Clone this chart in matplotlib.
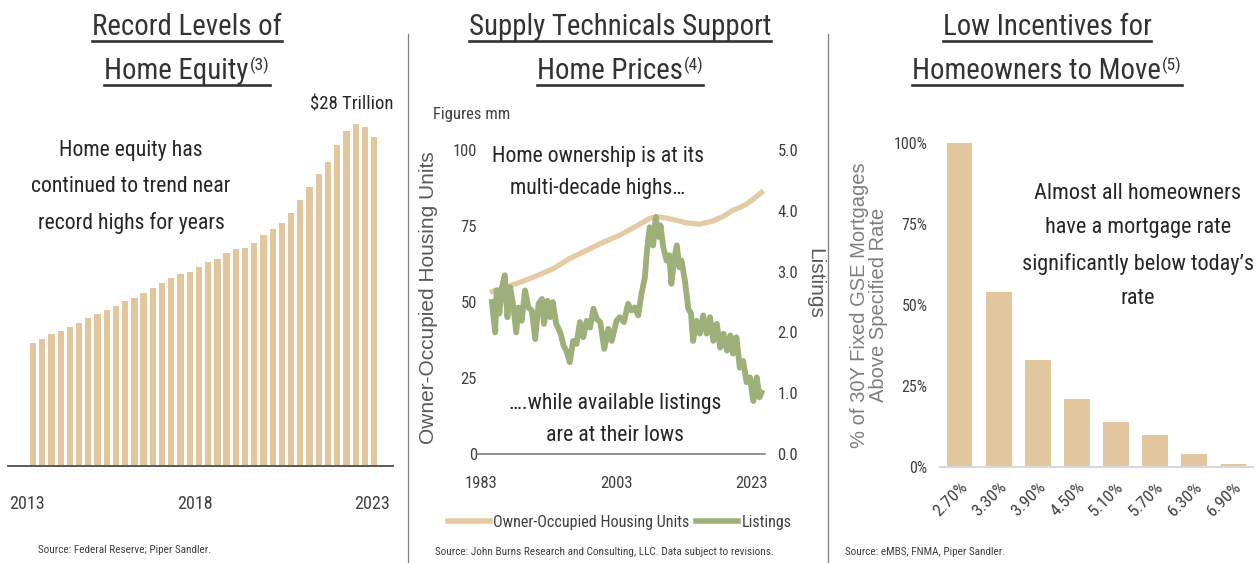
import matplotlib
matplotlib.use("Agg")
import matplotlib.pyplot as plt
from matplotlib import font_manager
from matplotlib.lines import Line2D
import numpy as np

# --- fonts ---
def pick_font(names):
    for n in names:
        try:
            font_manager.findfont(n, fallback_to_default=False)
            return n
        except Exception:
            pass
    return "DejaVu Sans"

NARROW = pick_font(["Liberation Sans Narrow", "Roboto Condensed", "DejaVu Sans"])
REGULAR = pick_font(["Liberation Sans", "Arial", "DejaVu Sans"])

TAN = "#E2C69E"
TAN_LINE = "#E4CBA5"
GREEN = "#9DB07A"
DARK = "#262626"
TITLE_C = "#333333"
TICK_C = "#404040"

# --- data: home equity, quarterly, $ trillion ---
equity_vals = [10.1, 10.4, 10.8, 11.1, 11.4, 11.7, 12.1, 12.5, 12.8, 13.1,
               13.5, 13.8, 14.2, 14.6, 15.0, 15.4, 15.7, 15.9, 16.3, 16.7,
               17.0, 17.5, 17.8, 17.9, 18.3, 18.9, 19.4, 19.9, 20.7, 21.8,
               22.9, 23.9, 24.9, 26.3, 27.5, 28.0, 27.8, 27.0]
equity_ticks = [-0.65, 17.6, 36.8]
equity_tick_labels = ["2013", "2018", "2023"]

# --- data: owner-occupied housing units (mm) ---
units_years = [1984.3, 1986.5, 1988.8, 1991.2, 1993.7, 1996.1, 1998.6, 2001.0,
               2003.5, 2005.8, 2007.9, 2009.2, 2010.4, 2012.0, 2013.4, 2015.3,
               2017.3, 2018.8, 2020.2, 2021.3, 2022.2, 2023.5, 2024.7]
units_vals = [53.2, 54.8, 56.5, 58.6, 61.0, 64.3, 67.0, 69.6,
              72.0, 74.8, 77.5, 78.0, 77.6, 76.8, 76.0, 75.6,
              76.7, 78.2, 80.2, 81.2, 82.2, 84.4, 86.6]

# --- data: listings (mm) ---
listings_years = [1984.6, 1985.1, 1985.3, 1985.7, 1986.1, 1986.5, 1986.9, 1987.3,
                  1987.8, 1988.2, 1988.5, 1989.0, 1989.5, 1990.0, 1990.5, 1991.0,
                  1991.5, 1992.0, 1992.3, 1992.8, 1993.2, 1993.6, 1994.1, 1994.7,
                  1995.2, 1995.6, 1996.1, 1996.6, 1997.1, 1997.6, 1998.1, 1998.6,
                  1999.1, 1999.6, 2000.1, 2000.6, 2001.2, 2001.8, 2002.3, 2003.0,
                  2003.5, 2004.1, 2004.7, 2005.2, 2005.7, 2006.2, 2006.7, 2007.2,
                  2007.5, 2007.9, 2008.4, 2008.8, 2009.2, 2009.5, 2009.9, 2010.4,
                  2010.8, 2011.1, 2011.5, 2011.9, 2012.3, 2012.6, 2013.1, 2013.6,
                  2014.0, 2014.3, 2014.8, 2015.3, 2015.8, 2016.3, 2016.8, 2017.3,
                  2017.8, 2018.3, 2018.8, 2019.3, 2019.8, 2020.2, 2020.7, 2021.2,
                  2021.7, 2022.2, 2022.7, 2023.2, 2023.7, 2024.1, 2024.4]
listings_vals = [2.50, 2.00, 2.69, 2.31, 2.74, 2.94, 2.25, 2.74,
                 2.41, 2.00, 2.41, 2.19, 2.69, 2.41, 2.36, 1.89,
                 2.47, 2.55, 2.14, 2.52, 2.25, 2.50, 2.14, 2.00,
                 1.78, 1.70, 1.51, 1.86, 1.81, 2.17, 1.92, 2.19,
                 2.08, 2.39, 2.22, 2.17, 1.73, 2.06, 1.86, 2.19,
                 2.25, 2.17, 2.47, 2.36, 2.41, 2.28, 2.64, 2.91,
                 3.35, 3.73, 3.43, 3.90, 3.57, 3.76, 3.40, 3.18,
                 3.27, 2.80, 3.18, 3.43, 3.07, 3.18, 2.85, 2.39,
                 2.31, 1.86, 2.19, 1.98, 2.28, 1.98, 2.25, 1.86,
                 2.14, 1.75, 1.98, 1.70, 1.95, 1.65, 1.92, 1.42,
                 1.53, 1.18, 1.26, 0.87, 1.26, 0.93, 1.01]
year_ticks = [1983, 2003, 2023]

# --- data: share of mortgages above specified rate (%) ---
rate_labels = ["2.70%", "3.30%", "3.90%", "4.50%", "5.10%", "5.70%", "6.30%", "6.90%"]
rate_share = [100, 54, 33, 21, 14, 10, 4, 1]

W, H = 1259, 563
fig = plt.figure(figsize=(W / 100, H / 100), dpi=100)


def fx(x):
    return x / W


def fy(y):
    return 1 - y / H


def ftext(x, y, s, **kw):
    kw.setdefault("family", NARROW)
    kw.setdefault("color", DARK)
    return fig.text(fx(x), fy(y), s, **kw)


# --- panel titles (underlined, with footnote marker) ---
renderer = fig.canvas.get_renderer()


def underline(x0, x1, y):
    fig.add_artist(Line2D([fx(x0), fx(x1)], [fy(y), fy(y)], color=TITLE_C, lw=1.9,
                          transform=fig.transFigure))


def title(cx, line1, line2, note):
    t1 = ftext(cx, 35, line1, ha="center", va="baseline", fontsize=20.8, color=TITLE_C)
    bb = t1.get_window_extent(renderer)
    underline(bb.x0, bb.x1, 41)
    t2 = ftext(cx, 79, line2, ha="left", va="baseline", fontsize=20.8, color=TITLE_C)
    t3 = ftext(cx, 70, note, ha="left", va="baseline", fontsize=12.5, color=TITLE_C)
    w2 = t2.get_window_extent(renderer).width
    w3 = t3.get_window_extent(renderer).width
    x0 = cx - (w2 + w3 + 1) / 2
    t2.set_x(fx(x0))
    t3.set_x(fx(x0 + w2 + 1))
    underline(x0, x0 + w2 + w3 + 1, 85)


title(187, "Record Levels of", "Home Equity", "(3)")
title(620, "Supply Technicals Support", "Home Prices", "(4)")
title(1047, "Low Incentives for", "Homeowners to Move", "(5)")

# panel separators
for sx in (408, 828):
    fig.add_artist(Line2D([fx(sx), fx(sx)], [fy(34), 0], color="#808080", lw=0.9,
                          transform=fig.transFigure))


def clean(ax, keep_bottom=True):
    for s in ("top", "left", "right"):
        ax.spines[s].set_visible(False)
    ax.spines["bottom"].set_visible(keep_bottom)


# --- left: home equity bars ---
ax1 = fig.add_axes([fx(8), fy(466), (393 - 8) / W, (466 - 100) / H])
x_eq = np.arange(len(equity_vals))
ax1.bar(x_eq, equity_vals, width=0.68, color=TAN)
ax1.set_xlim(-2.71, 39.05)
ax1.set_ylim(0, 30)
clean(ax1)
ax1.spines["bottom"].set_color("#595959")
ax1.spines["bottom"].set_linewidth(1.4)
ax1.set_yticks([])
ax1.set_xticks(equity_ticks)
ax1.set_xticklabels(equity_tick_labels, family=NARROW, fontsize=13, color=TICK_C)
ax1.tick_params(axis="x", length=0, pad=21)
peak = int(np.argmax(equity_vals))
ax1.annotate("$28 Trillion", (peak, equity_vals[peak]), xytext=(-3, 8),
             textcoords="offset points", ha="center", va="bottom",
             family=NARROW, fontsize=13.5, color=DARK)
ftext(131, 187, "Home equity has\ncontinued to trend near\nrecord highs for years",
      ha="center", va="center", fontsize=15.7, linespacing=1.92)
ftext(38, 550, "Source: Federal Reserve; Piper Sandler.", ha="left", va="center",
      fontsize=8.1, color=TICK_C)

# --- middle: housing units vs listings ---
ax2 = fig.add_axes([fx(477), fy(454), (765 - 477) / W, (454 - 150) / H])
ax2r = ax2.twinx()
ax2.plot(units_years, units_vals, color=TAN_LINE, lw=3.8, solid_capstyle="butt")
ax2r.plot(listings_years, listings_vals, color=GREEN, lw=4.2, solid_joinstyle="round")
for a in (ax2, ax2r):
    a.set_xlim(1982.41, 2024.92)
    clean(a, keep_bottom=(a is ax2))
ax2.spines["bottom"].set_color("#7f7f7f")
ax2.spines["bottom"].set_linewidth(1.2)
ax2.set_ylim(0, 100)
ax2r.set_ylim(0, 5)
ax2.set_yticks([0, 25, 50, 75, 100])
ax2.set_yticklabels(["0", "25", "50", "75", "100"], family=NARROW, fontsize=12, color=TICK_C)
ax2r.set_yticks([0, 1, 2, 3, 4, 5])
ax2r.set_yticklabels([f"{v:.1f}" for v in range(6)], family=NARROW, fontsize=12, color=TICK_C)
ax2.tick_params(axis="y", length=0, pad=0)
ax2r.tick_params(axis="y", length=0, pad=9)
ax2.set_xticks(year_ticks)
ax2.set_xticklabels([str(y) for y in year_ticks], family=NARROW, fontsize=12, color=TICK_C)
ax2.tick_params(axis="x", length=0, pad=16)
ftext(428, 298, "Owner-Occupied Housing Units", ha="center", va="center", rotation=90,
      family=REGULAR, fontsize=15, color="#595959")
ftext(815, 283, "Listings", ha="center", va="center", rotation=270,
      family=REGULAR, fontsize=15, color="#595959")
ftext(433, 115, "Figures mm", ha="left", va="center", fontsize=12, color=TICK_C)
ftext(598, 172.5, "Home ownership is at its\nmulti-decade highs\u2026",
      ha="center", va="center", fontsize=15.7, linespacing=1.7)
ftext(615, 419.5, "\u2026.while available listings\nare at their lows",
      ha="center", va="center", fontsize=15.7, linespacing=1.7)
handles = [Line2D([], [], color=TAN_LINE, lw=4), Line2D([], [], color=GREEN, lw=4)]
leg = fig.legend(handles, ["Owner-Occupied Housing Units", "Listings"], ncol=2,
                 loc="center", bbox_to_anchor=(fx(619.5), fy(522)), frameon=False,
                 handlelength=2.6, handletextpad=0.2, columnspacing=0.45,
                 prop={"family": NARROW, "size": 11.6})
for t in leg.get_texts():
    t.set_color(TICK_C)
ftext(435, 552, "Source: John Burns Research and Consulting, LLC. Data subject to revisions.",
      ha="left", va="center", fontsize=8.1, color=TICK_C)

# --- right: share of mortgages above rate ---
ax3 = fig.add_axes([fx(940), fy(467), (1253 - 940) / W, (467 - 130) / H])
x_r = np.arange(len(rate_share))
ax3.bar(x_r, rate_share, width=0.66, color=TAN)
ax3.set_xlim(-0.5, 7.5)
ax3.set_ylim(0, 103.9)
clean(ax3)
ax3.spines["bottom"].set_color("#d9d9d9")
ax3.spines["bottom"].set_linewidth(1.5)
ax3.set_yticks([0, 25, 50, 75, 100])
ax3.set_yticklabels(["0%", "25%", "50%", "75%", "100%"], family=NARROW, fontsize=11.5,
                    color=TICK_C)
ax3.tick_params(axis="y", length=0, pad=9)
ax3.set_xticks(x_r)
ax3.set_xticklabels(rate_labels, family=NARROW, fontsize=12.5, color=TICK_C,
                    rotation=45, ha="right", rotation_mode="anchor")
ax3.tick_params(axis="x", length=0, pad=9)
ftext(869, 305, "% of 30Y Fixed GSE Mortgages\nAbove Specified Rate", ha="center",
      va="center", rotation=90, family=REGULAR, fontsize=14.5, color="#7f7f7f",
      linespacing=0.95)
ftext(1138, 246, "Almost all homeowners\nhave a mortgage rate\nsignificantly below today\u2019s\nrate",
      ha="center", va="center", fontsize=16, linespacing=1.85)
ftext(845, 552, "Source: eMBS, FNMA, Piper Sandler.", ha="left", va="center",
      fontsize=8.1, color=TICK_C)

fig.savefig("out.png", dpi=100)
